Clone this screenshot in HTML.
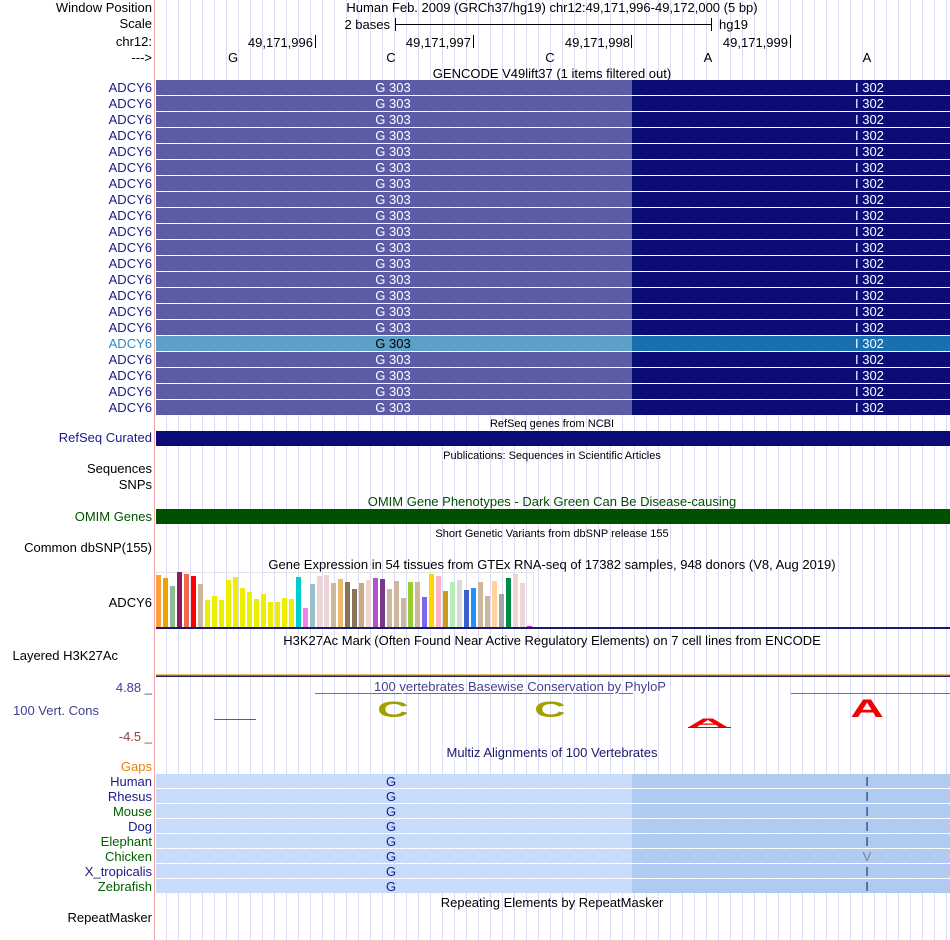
<!DOCTYPE html>
<html><head><meta charset="utf-8"><style>
html,body{margin:0;padding:0;background:#fff;}
svg{display:block;font-family:"Liberation Sans",sans-serif;}
</style></head><body>
<svg id="chart" width="950" height="940" viewBox="0 0 950 940" xmlns="http://www.w3.org/2000/svg">
<g id="grid"></g>
<line x1="154.5" y1="0" x2="154.5" y2="940" stroke="#f4a8a8" stroke-width="1"/>

<g font-size="13" fill="#000" text-anchor="end">
<text x="152" y="12">Window Position</text>
<text x="152" y="28">Scale</text>
<text x="152" y="46">chr12:</text>
<text x="152" y="62">---&gt;</text>
<text x="152" y="442" fill="#1a1a8c">RefSeq Curated</text>
<text x="152" y="473">Sequences</text>
<text x="152" y="489">SNPs</text>
<text x="152" y="521" fill="#005000">OMIM Genes</text>
<text x="152" y="552">Common dbSNP(155)</text>
<text x="152" y="607">ADCY6</text>
<text x="118" y="660">Layered H3K27Ac</text>
<text x="152" y="692" fill="#404090">4.88 _</text>
<text x="152" y="741" fill="#904040">-4.5 _</text>
<text x="152" y="771" fill="#f08000">Gaps</text>
<text x="152" y="786" fill="#1a1a8c">Human</text>
<text x="152" y="801" fill="#1a1a8c">Rhesus</text>
<text x="152" y="816" fill="#006000">Mouse</text>
<text x="152" y="831" fill="#1a1a8c">Dog</text>
<text x="152" y="846" fill="#006000">Elephant</text>
<text x="152" y="861" fill="#006000">Chicken</text>
<text x="152" y="876" fill="#1a1a8c">X_tropicalis</text>
<text x="152" y="891" fill="#006000">Zebrafish</text>
<text x="152" y="922">RepeatMasker</text>
</g>
<text x="13" y="715" font-size="13" fill="#404090">100 Vert. Cons</text>

<g font-size="13" fill="#000">
<text x="552" y="12" text-anchor="middle">Human Feb. 2009 (GRCh37/hg19)   chr12:49,171,996-49,172,000 (5 bp)</text>
<text x="390" y="29" text-anchor="end">2 bases</text>
<line x1="395" y1="24.5" x2="711" y2="24.5" stroke="#000"/>
<line x1="395.5" y1="18" x2="395.5" y2="31" stroke="#000"/>
<line x1="711.5" y1="18" x2="711.5" y2="31" stroke="#000"/>
<text x="719" y="29">hg19</text>
<text x="313" y="47" text-anchor="end">49,171,996</text><line x1="315.5" y1="35" x2="315.5" y2="48" stroke="#000"/>
<text x="471" y="47" text-anchor="end">49,171,997</text><line x1="473.5" y1="35" x2="473.5" y2="48" stroke="#000"/>
<text x="630" y="47" text-anchor="end">49,171,998</text><line x1="631.5" y1="35" x2="631.5" y2="48" stroke="#000"/>
<text x="788" y="47" text-anchor="end">49,171,999</text><line x1="790.5" y1="35" x2="790.5" y2="48" stroke="#000"/>
<g text-anchor="middle"><text x="233" y="62">G</text><text x="391" y="62">C</text><text x="550" y="62">C</text><text x="708" y="62">A</text><text x="867" y="62">A</text></g>
<text x="552" y="78" text-anchor="middle">GENCODE V49lift37 (1 items filtered out)</text>
</g>

<g id="gencode"></g>

<g font-size="11" fill="#000" text-anchor="middle">
<text x="552" y="427">RefSeq genes from NCBI</text>
<text x="552" y="459">Publications: Sequences in Scientific Articles</text>
<text x="552" y="537">Short Genetic Variants from dbSNP release 155</text>
</g>
<rect x="156" y="431" width="794" height="15" fill="#0c0c78"/>
<text x="552" y="506" font-size="13" fill="#005000" text-anchor="middle">OMIM Gene Phenotypes - Dark Green Can Be Disease-causing</text>
<rect x="156" y="509" width="794" height="15" fill="#005000"/>
<text x="552" y="569" font-size="13" fill="#000" text-anchor="middle">Gene Expression in 54 tissues from GTEx RNA-seq of 17382 samples, 948 donors (V8, Aug 2019)</text>
<rect x="156.5" y="572.5" width="377" height="55" fill="none" stroke="#e4e4e4"/>
<g id="gtex"></g>
<rect x="156" y="627" width="794" height="2" fill="#1a1a6c"/>
<text x="552" y="645" font-size="13" fill="#000" text-anchor="middle">H3K27Ac Mark (Often Found Near Active Regulatory Elements) on 7 cell lines from ENCODE</text>
<rect x="156" y="674" width="794" height="1.5" fill="#f0c060"/>
<rect x="156" y="675.5" width="794" height="1.5" fill="#202060"/>

<g>
<line x1="315" y1="693.5" x2="633" y2="693.5" stroke="#c040c0"/>
<line x1="791" y1="693.5" x2="950" y2="693.5" stroke="#c040c0"/>
<text x="520" y="691" font-size="13" fill="#404090" text-anchor="middle" stroke="#fff" stroke-width="3" paint-order="stroke">100 vertebrates Basewise Conservation by PhyloP</text>
<line x1="214" y1="719.5" x2="256" y2="719.5" stroke="#5050d0"/>
<text transform="translate(393,717) scale(1.45,0.75)" font-size="30" font-weight="bold" fill="#a0a000" text-anchor="middle">C</text>
<text transform="translate(550,717) scale(1.45,0.75)" font-size="30" font-weight="bold" fill="#a0a000" text-anchor="middle">C</text>
<line x1="688" y1="727.5" x2="731" y2="727.5" stroke="#3030c0"/>
<text transform="translate(708,727) scale(1.9,0.4)" font-size="30" font-weight="bold" fill="#f00000" text-anchor="middle">A</text>
<text transform="translate(867,717) scale(1.65,0.9)" font-size="28" font-weight="bold" fill="#f00000" text-anchor="middle">A</text>
</g>
<text x="552" y="757" font-size="13" fill="#1a1a6c" text-anchor="middle">Multiz Alignments of 100 Vertebrates</text>
<g id="multiz"></g>
<text x="552" y="907" font-size="13" fill="#000" text-anchor="middle">Repeating Elements by RepeatMasker</text>
</svg>
<script>
const NS = 'http://www.w3.org/2000/svg';
// GTEx tissue expression (bar heights, px-scale units)
const gtexValues = [52,49,41,55,53,51,43,27,31,27,47,50,39,35,28,33,25,25,29,28,50,19,43,51,52,44,48,45,38,44,47,49,48,38,46,29,45,45,30,53,51,36,45,47,37,39,45,31,46,33,49,53,44,1];
const gtexColors = ['#ff9f40','#f0a000','#8fbc8f','#8b1c62','#ee6a50','#ff0000','#cdb79e','#eeee00','#eeee00','#eeee00','#eeee00','#eeee00','#eeee00','#eeee00','#eeee00','#eeee00','#eeee00','#eeee00','#eeee00','#eeee00','#00cdcd','#ee82ee','#9ac0cd','#eed5d2','#eed5d2','#cdb79e','#eeb870','#8b7355','#8b7355','#cdaa7d','#eed5d2','#b452cd','#7a378b','#cdb79e','#cdb79e','#cdb79e','#9acd32','#cdb79e','#7b68ee','#ffd700','#ffb6c1','#cd9b1d','#b4eeb4','#d9d9d9','#3a5fcd','#1e90ff','#cdb79e','#cdb79e','#ffd39b','#a6a6a6','#008b45','#eed5d2','#eed5d2','#ff00ff'];
const gencodeRows = 21;
const highlightRow = 17;
const multizSpecies = ['Human','Rhesus','Mouse','Dog','Elephant','Chicken','X_tropicalis','Zebrafish'];
const multizMark = ['I','I','I','I','I','V','I','I'];

function mk(tag, attrs, parent){const e=document.createElementNS(NS,tag);for(const k in attrs)e.setAttribute(k,attrs[k]);parent.appendChild(e);return e;}

const grid=document.getElementById('grid');
for(let x=166.5;x<950;x+=12){
  const l=mk('line',{x1:x,y1:0,x2:x,y2:940,stroke:'#dcdcf4'},grid);
  
  
}

const gen=document.getElementById('gencode');
for(let i=0;i<gencodeRows;i++){
  const y=80+i*16;
  const hi=(i+1)===highlightRow;
  const g=mk('g',{},gen);
  
  
  mk('rect',{x:156,y:y,width:476,height:15,fill:hi?'#5ca0c8':'#5c5ca6'},g);
  mk('rect',{x:632,y:y,width:318,height:15,fill:hi?'#1870b0':'#0c0c78'},g);
  const lb=mk('text',{x:152,y:y+12,'font-size':13,'text-anchor':'end',fill:hi?'#2a8ac8':'#1a1a8c'},g);lb.textContent='ADCY6';
  const t1=mk('text',{x:393,y:y+12,'font-size':13,'text-anchor':'middle',fill:hi?'#000':'#fff'},g);t1.textContent='G 303';
  const t2=mk('text',{x:855,y:y+12,'font-size':13,fill:'#fff'},g);t2.textContent='I 302';
}

const gt=document.getElementById('gtex');
const base=627, bw=5, step=7, x0=156;
function yScale(v){return base - v;}
gtexValues.forEach((v,i)=>{
  const r=mk('rect',{x:x0+i*step,y:yScale(v),width:bw,height:base-yScale(v),fill:gtexColors[i]},gt);
  
  
});

const mz=document.getElementById('multiz');
multizSpecies.forEach((s,i)=>{
  const y=774+i*15;
  const g=mk('g',{},mz);
  
  
  mk('rect',{x:156,y:y,width:476,height:14,fill:'#c8dcfa'},g);
  mk('rect',{x:632,y:y,width:318,height:14,fill:'#b0caf0'},g);
  const t=mk('text',{x:391,y:y+12,'font-size':13,'text-anchor':'middle',fill:'#1a1a8c'},g);t.textContent='G';
  const m=mk('text',{x:867,y:y+12,'font-size':13,'text-anchor':'middle',fill:multizMark[i]==='V'?'#8080a8':'#1a3a8c'},g);m.textContent=multizMark[i];
});
</script>
</body></html>
